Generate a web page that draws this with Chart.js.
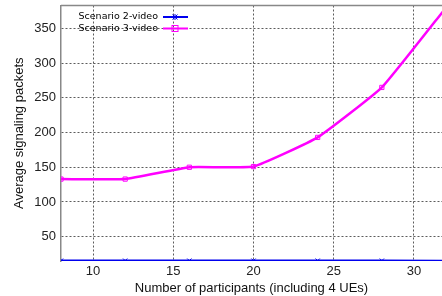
<!DOCTYPE html>
<html>
<head>
<meta charset="utf-8">
<script src="https://cdn.jsdelivr.net/npm/chart.js@4.4.0/dist/chart.umd.min.js"></script>
<style>
  html, body { margin: 0; padding: 0; background: #fff; }
  #wrap { width: 442px; height: 296px; position: relative; }
</style>
</head>
<body>
<div id="wrap"><canvas id="signalChart"></canvas></div>
<script>
// participants on the x axis
const participants = [8, 12, 16, 20, 24, 28, 32];
const scenario2Video = [15.5, 15.5, 15.5, 15.5, 15.5, 15.5, 15];
const scenario3Video = [133, 133, 150, 151, 193, 265, 380];
const xTicks = [10, 15, 20, 25, 30];
const yTicks = [50, 100, 150, 200, 250, 300, 350];

const toPoints = (ys) => participants.map((x, i) => ({ x: x, y: ys[i] }));

// gnuplot-like legend inside the top-left corner of the plot
const insideLegend = {
  id: "insideLegend",
  afterDatasetsDraw(chart) {
    const ctx = chart.ctx;
    const area = chart.chartArea;
    ctx.save();
    ctx.font = "9.5px 'DejaVu Sans'";
    ctx.textAlign = "right";
    ctx.textBaseline = "middle";
    chart.data.datasets.forEach((ds, i) => {
      const y = area.top + 11.5 + i * 11.5;
      const textRight = area.left + 97;
      ctx.fillStyle = "#000";
      ctx.fillText(ds.label, textRight, y);
      ctx.strokeStyle = ds.borderColor;
      ctx.lineWidth = 2;
      ctx.beginPath();
      ctx.moveTo(textRight + 5, y);
      ctx.lineTo(textRight + 30, y);
      ctx.stroke();
      const mx = textRight + 17;
      ctx.lineWidth = 1;
      if (i === 0) {
        ctx.beginPath();
        ctx.moveTo(mx - 2.5, y - 2.5); ctx.lineTo(mx + 2.5, y + 2.5);
        ctx.moveTo(mx - 2.5, y + 2.5); ctx.lineTo(mx + 2.5, y - 2.5);
        ctx.moveTo(mx, y - 3); ctx.lineTo(mx, y + 3);
        ctx.stroke();
      } else {
        ctx.strokeRect(mx - 3, y - 3, 6, 6);
      }
    });
    ctx.restore();
  },
};

// the original plot runs right up to the image edge
const fullWidth = {
  id: "fullWidth",
  afterLayout(chart) {
    const xs = chart.scales.x;
    chart.chartArea.right = chart.width;
    chart.chartArea.width = chart.width - chart.chartArea.left;
    xs.right = chart.width;
    xs.width = xs.right - xs.left;
    xs.configure();
  },
};

// top frame line like gnuplot's border
const topFrame = {
  id: "topFrame",
  beforeDatasetsDraw(chart) {
    const ctx = chart.ctx;
    const a = chart.chartArea;
    ctx.save();
    ctx.strokeStyle = "#888";
    ctx.lineWidth = 1.5;
    ctx.beginPath();
    ctx.moveTo(a.left, a.top);
    ctx.lineTo(a.right, a.top);
    ctx.stroke();
    ctx.restore();
  },
};

new Chart(document.getElementById("signalChart"), {
  type: "line",
  data: {
    datasets: [
      {
        label: "Scenario 2-video",
        data: toPoints(scenario2Video),
        borderColor: "#0000ee",
        backgroundColor: "#0000ee",
        borderWidth: 2.5,
        pointStyle: "crossRot",
        pointRadius: 3,
        pointBorderWidth: 1,
        tension: 0,
      },
      {
        label: "Scenario 3-video",
        data: toPoints(scenario3Video),
        borderColor: "#ff00ff",
        backgroundColor: "transparent",
        borderWidth: 2.5,
        pointStyle: "rect",
        pointRadius: 3,
        pointBorderWidth: 1,
        tension: 0.12,
      },
    ],
  },
  options: {
    responsive: true,
    maintainAspectRatio: false,
    animation: false,
    layout: { padding: { top: 5.5, right: 0, left: 0, bottom: 0 } },
    plugins: {
      legend: { display: false },
      tooltip: { enabled: false },
    },
    scales: {
      x: {
        type: "linear",
        min: 8,
        max: 31.75,
        afterBuildTicks: (scale) => {
          scale.ticks = xTicks.map((v) => ({ value: v }));
        },
        afterFit: (scale) => {
          scale.height = 35;
          scale.paddingLeft = 0;
          scale.paddingRight = 0;
        },
        grid: {
          color: "#333",
          lineWidth: 0.8,
          tickLength: 0,
        },
        border: { display: false, dash: [2, 2] },
        ticks: {
          color: "#222",
          font: { family: "'Liberation Sans', Arial", size: 13 },
          padding: 3,
          maxRotation: 0,
        },
        title: {
          display: true,
          text: "Number of participants (including 4 UEs)",
          color: "#111",
          font: { family: "'Liberation Sans', Arial", size: 13 },
          padding: { top: 6, bottom: 0 },
        },
      },
      y: {
        min: 15,
        max: 383,
        afterBuildTicks: (scale) => {
          scale.ticks = yTicks.map((v) => ({ value: v }));
        },
        afterFit: (scale) => {
          scale.width = 61;
          scale.paddingTop = 0;
          scale.paddingBottom = 0;
        },
        grid: {
          color: "#333",
          lineWidth: 0.8,
          tickLength: 0,
        },
        border: { display: true, color: "#888", width: 1.5, dash: [2, 2] },
        ticks: {
          color: "#222",
          font: { family: "'Liberation Sans', Arial", size: 13 },
          padding: 5,
        },
        title: {
          display: true,
          text: "Average signaling packets",
          color: "#111",
          font: { family: "'Liberation Sans', Arial", size: 13 },
          padding: { top: 12, bottom: 0 },
        },
      },
    },
  },
  plugins: [fullWidth, insideLegend, topFrame],
});
</script>
</body>
</html>
